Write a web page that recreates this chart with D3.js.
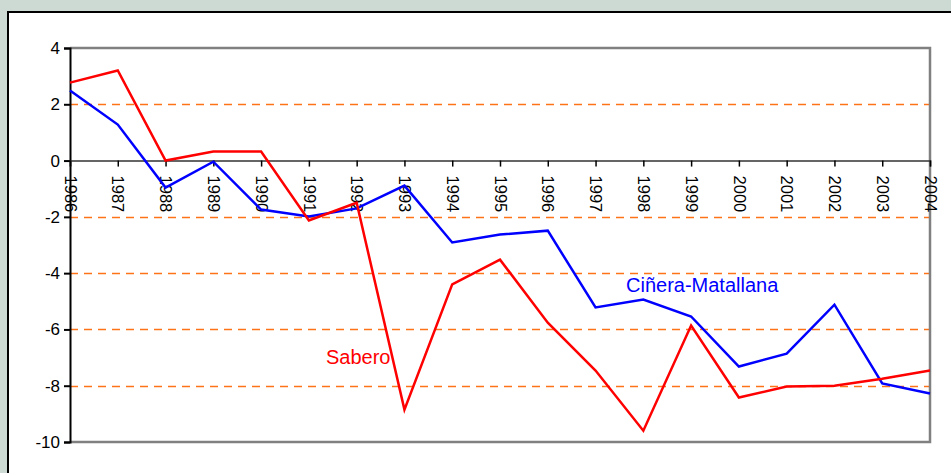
<!DOCTYPE html>
<html>
<head>
<meta charset="utf-8">
<script src="https://cdn.jsdelivr.net/npm/d3@7"></script>
<style>
  body { margin: 0; background: #cddad4; }
  svg { display: block; font-family: "Liberation Sans", Arial, sans-serif; }
  .axis text { font-size: 16.5px; font-family: "Liberation Sans", Arial, sans-serif; fill: #000; }
  .yaxis text { font-size: 17px; }
</style>
</head>
<body>
<div class="chart"></div>
<script>
const years = [1986, 1987, 1988, 1989, 1990, 1991, 1992, 1993, 1994, 1995,
               1996, 1997, 1998, 1999, 2000, 2001, 2002, 2003, 2004];
const sabero = [2.77, 3.2, 0, 0.32, 0.32, -2.13, -1.5, -8.85, -4.4, -3.52,
                -5.76, -7.46, -9.6, -5.86, -8.42, -8.03, -8.0, -7.75, -7.46];
const cinera = [2.49, 1.28, -0.96, -0.04, -1.74, -1.99, -1.7, -0.89, -2.91, -2.63,
                -2.49, -5.22, -4.94, -5.54, -7.32, -6.86, -5.12, -7.92, -8.28];
const yTicks = [4, 2, 0, -2, -4, -6, -8, -10];
const gridVals = [2, -2, -4, -6, -8];

const width = 951, height = 473;
const svg = d3.select(".chart").append("svg")
    .attr("width", width).attr("height", height);

// white panel
svg.append("rect").attr("x", 8).attr("y", 12)
    .attr("width", width).attr("height", height)
    .attr("fill", "#fff").attr("stroke", "#000").attr("stroke-width", 2);

const x = d3.scaleLinear().domain([1986, 2004]).range([70, 930]);
const y = d3.scaleLinear().domain([-10, 4]).range([442, 48]);

// grid lines
svg.selectAll(".grid").data(gridVals).enter().append("line")
    .attr("x1", 70).attr("x2", 930)
    .attr("y1", d => Math.round(y(d)) + 0.5).attr("y2", d => Math.round(y(d)) + 0.5)
    .attr("stroke", "#ff7318").attr("stroke-width", 1.3)
    .attr("stroke-dasharray", "8,6");

// plot frame (top, right, bottom gray)
svg.append("path")
    .attr("d", `M70,${y(4)}H930V${y(-10)}H70`)
    .attr("fill", "none").attr("stroke", "#808080").attr("stroke-width", 2.5);

// y axis
const yAxis = svg.append("g").attr("class", "axis yaxis").attr("transform", "translate(70,0)")
    .call(d3.axisLeft(y).tickValues(yTicks).tickFormat(d => String(d)).tickSize(6).tickPadding(4));
yAxis.selectAll("line, path").attr("stroke", "#000").attr("stroke-width", 2);

// x axis at zero
const xAxis = svg.append("g").attr("class", "axis").attr("transform", `translate(0,${y(0)})`)
    .call(d3.axisBottom(x).tickValues(years).tickFormat(d => String(d)).tickSizeOuter(0).tickSize(6));
xAxis.select(".domain").attr("stroke", "#333").attr("stroke-width", 1.5);
xAxis.selectAll("line").attr("stroke", "#000").attr("stroke-width", 1.5);
xAxis.selectAll("text")
    .attr("text-anchor", "start")
    .attr("dy", "0.35em")
    .attr("y", 0)
    .attr("transform", "rotate(90) translate(15,0)");

const line = d3.line().x((d, i) => x(years[i])).y(d => y(d));

svg.append("path").datum(cinera).attr("d", line)
    .attr("fill", "none").attr("stroke", "#0000ff").attr("stroke-width", 2.5);
svg.append("path").datum(sabero).attr("d", line)
    .attr("fill", "none").attr("stroke", "#ff0000").attr("stroke-width", 2.5);

// series labels
svg.append("text").text("Sabero")
    .attr("x", 326).attr("y", 364)
    .attr("font-size", 20).attr("fill", "#ff0000");
svg.append("text").text("Ciñera-Matallana")
    .attr("x", 626).attr("y", 292)
    .attr("font-size", 20).attr("fill", "#0000ff");
</script>
</body>
</html>
